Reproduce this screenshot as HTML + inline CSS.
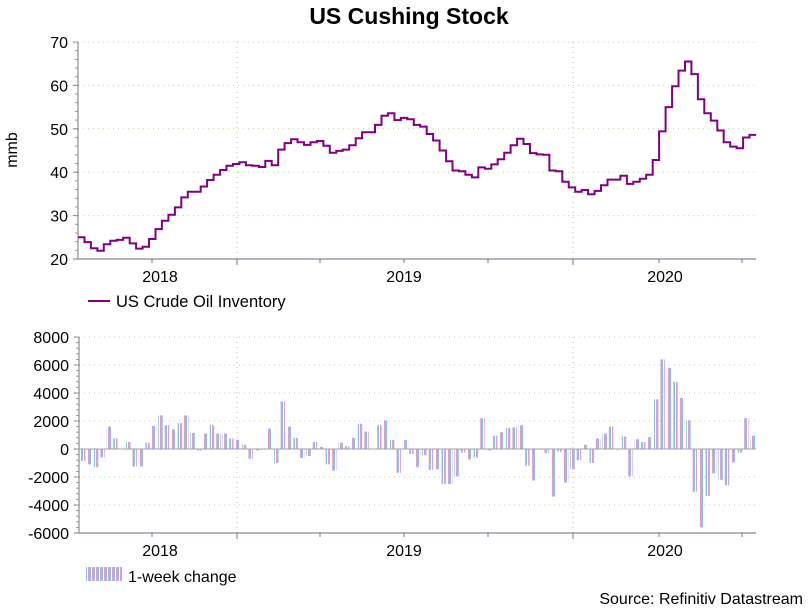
<!DOCTYPE html>
<html><head><meta charset="utf-8">
<style>
html,body{margin:0;padding:0;background:#fff;}
svg{display:block;font-family:"Liberation Sans",Arial,sans-serif;}
</style></head>
<body>
<svg id="c" width="809" height="609" viewBox="0 0 809 609" xmlns="http://www.w3.org/2000/svg">
<defs>
<pattern id="hatch" width="4" height="4" patternUnits="userSpaceOnUse">
<rect width="4" height="4" fill="#fff"/>
<rect x="0" width="1" height="4" fill="#e0a0c8"/>
<rect x="1" width="2" height="4" fill="#8cbcf0"/>
</pattern>
</defs>
<text x="409" y="24" text-anchor="middle" font-size="23" font-weight="bold" fill="#000">US Cushing Stock</text>
<g id="top"></g>
<g id="bot"></g>
<line x1="88" y1="301" x2="110" y2="301" stroke="#800080" stroke-width="2"/>
<text x="116" y="307" font-size="16.5" fill="#000">US Crude Oil Inventory</text>
<rect x="86" y="567" width="36" height="14" fill="url(#hatch)"/>
<text x="128" y="582" font-size="16" fill="#000">1-week change</text>
<text x="803" y="604" text-anchor="end" font-size="16" fill="#000">Source: Refinitiv Datastream</text>
<text transform="translate(17,150) rotate(-90)" text-anchor="middle" font-size="16" fill="#000">mmb</text>
</svg>
<script>
const inventory = [25.0,23.9,22.5,21.9,23.4,24.2,24.4,24.9,23.6,22.4,22.8,24.6,26.9,28.8,30.2,31.9,34.2,35.5,35.5,36.7,38.2,39.4,40.5,41.5,41.9,42.3,41.6,41.5,41.2,42.6,41.6,45.2,46.7,47.6,46.9,46.3,46.9,47.2,46.1,44.5,44.9,45.2,46.2,47.8,49.2,49.2,50.9,53.0,53.6,52.0,52.5,52.2,50.9,50.5,48.8,47.3,45.0,42.5,40.4,40.2,39.4,38.8,41.1,40.8,41.8,43.0,44.5,46.2,47.7,46.5,44.4,44.1,44.0,40.4,40.2,37.8,36.5,35.5,35.9,34.9,35.7,37.0,38.3,38.3,39.2,37.3,37.8,38.5,39.4,42.8,49.4,55.0,59.8,63.4,65.5,62.6,56.8,53.6,51.9,49.6,46.9,45.9,45.5,48.0,48.6];
const weeklyChange = [-850,-1100,-1300,-600,1600,750,0,500,-1250,-1250,450,1650,2400,1700,1400,1850,2400,1150,-100,1100,1700,1100,1100,750,650,300,-700,-100,-50,1450,-1000,3400,1600,800,-650,-500,500,150,-1100,-1550,450,200,800,1800,1250,0,1700,2050,650,-1700,650,-350,-1300,-450,-1500,-1450,-2500,-2500,-1950,-250,-750,-600,2200,-100,950,1200,1500,1550,1700,-1200,-2250,-50,-300,-3400,-200,-2400,-1450,-800,300,-1000,750,1100,1600,-50,900,-1950,700,500,850,3550,6400,5800,4800,3650,2050,-3050,-5600,-3350,-1750,-2200,-2600,-950,-250,2200,950];
const topTicks = [20,30,40,50,60,70];
const botTicks = [-6000,-4000,-2000,0,2000,4000,6000,8000];
const yearLabels = ["2018","2019","2020"];

const NS="http://www.w3.org/2000/svg";
function mk(p,t,a){const e=document.createElementNS(NS,t);for(const k in a)e.setAttribute(k,a[k]);p.appendChild(e);return e;}
const X0=78,X1=756;
const yearLabelX=[160,404,665];
const qTicks=[152,237,320,404,488,573,659,742];
const yearGrid=[237,573];

function frame(g,top,bottom,ticks,yFn,fmt,axX,labY,prefix){
  ticks.forEach(v=>{
    const y=yFn(v);
    if(v!==ticks[0]){const gl=mk(g,'line',{x1:axX,x2:X1,y1:y,y2:y,stroke:'#b8d890','stroke-dasharray':'1 4','stroke-width':1});
    
    }
    const t=mk(g,'text',{x:axX-10,y:y+6,'text-anchor':'end','font-size':16,fill:'#000'});
    t.textContent=fmt(v);
    
    
    mk(g,'line',{x1:axX-5,x2:axX,y1:y,y2:y,stroke:'#777'});
  });
  const step=(yFn(ticks[0])-yFn(ticks[1]))/5;
  for(let y=yFn(ticks[ticks.length-1]);y<yFn(ticks[0]);y+=step) mk(g,'line',{x1:axX-3,x2:axX,y1:y,y2:y,stroke:'#999'});
  yearGrid.forEach(x=>{const l=mk(g,'line',{x1:x,x2:x,y1:top,y2:bottom,stroke:'#a0c8b0','stroke-dasharray':'1 4'});
    
    });
  const ya=mk(g,'line',{x1:axX,x2:axX,y1:top,y2:bottom,stroke:'#777'});
  
  
  const xa=mk(g,'line',{x1:axX,x2:X1,y1:bottom,y2:bottom,stroke:'#9a9ab0','stroke-width':1.5});
  
  
  qTicks.forEach(x=>mk(g,'line',{x1:x,x2:x,y1:bottom,y2:bottom+(yearGrid.includes(x)?6:4),stroke:'#777'}));
  yearLabels.forEach((s,i)=>{const t=mk(g,'text',{x:yearLabelX[i],y:labY,'text-anchor':'middle','font-size':16,fill:'#000'});
    t.textContent=s;
    
    });
}

// top chart
const gt=document.getElementById('top');
const yT=v=>259-(v-20)*(259-42)/50;
frame(gt,42,259,topTicks,yT,v=>String(v),78,282,'top');
const n=inventory.length, w=(X1-X0)/n;
let d='';
inventory.forEach((v,i)=>{const x0=X0+i*w,x1=X0+(i+1)*w,y=yT(v);d+=(i?'L':'M')+x0.toFixed(1)+' '+y.toFixed(1)+'L'+x1.toFixed(1)+' '+y.toFixed(1);});
const line=mk(gt,'path',{d:d,fill:'none',stroke:'#800080','stroke-width':2});



// bottom chart
const gb=document.getElementById('bot');
const yB=v=>533-(v+6000)*(533-337)/14000;
frame(gb,337,533,botTicks,yB,v=>String(v),79,556,'bottom');
const m=weeklyChange.length, wb=(X1-80)/m;
weeklyChange.forEach((v,i)=>{
  const x=80+i*wb+1, y0=yB(0), y=yB(v);
  const r=mk(gb,'rect',{x:x.toFixed(1),y:Math.min(y,y0).toFixed(1),width:(wb-2).toFixed(1),height:Math.max(Math.abs(y-y0),0.5).toFixed(1),fill:'url(#hatch)'});
  
  
});
const zl=mk(gb,'line',{x1:79,x2:X1,y1:yB(0),y2:yB(0),stroke:'#a0a0a0'});


</script>
</body></html>
